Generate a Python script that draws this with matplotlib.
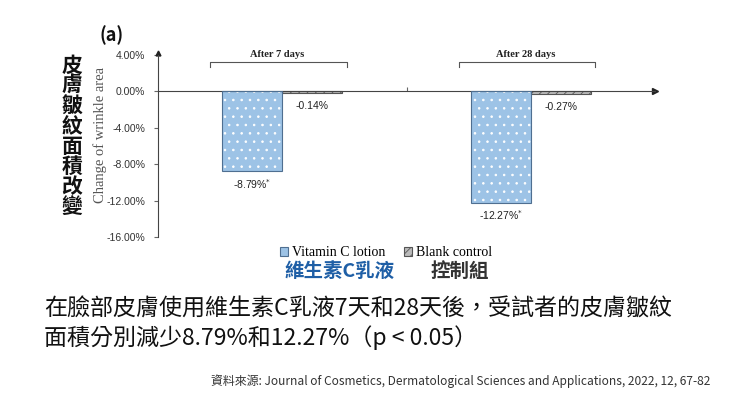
import numpy as np
import matplotlib.pyplot as plt
from matplotlib.patches import Patch

plt.rcParams['font.family'] = ['Noto Sans CJK TC', 'DejaVu Sans']
plt.rcParams['hatch.linewidth'] = 0.6

# data
groups = ['After 7 days', 'After 28 days']
vitamin = [-8.79, -12.27]
blank = [-0.14, -0.27]
significant = [True, True]
series_en = ['Vitamin C lotion', 'Blank control']
series_zh = ['維生素C乳液', '控制組']
yticks = [4, 0, -4, -8, -12, -16]

vit_face = '#9dc3e6'
vit_edge = '#4f6f91'
zh_blue = '#1f5fa6'

fig = plt.figure(figsize=(7.4, 4.04), dpi=100)
ax = fig.add_axes([158 / 740, 1 - 237 / 404, 497 / 740, 182 / 404])

x = np.arange(len(groups)) + 0.5
w = 0.242

# vitamin C bars: blue with white dots, then outline
ax.bar(x - w / 2, vitamin, w, color=vit_face, edgecolor='white', hatch='..', linewidth=0, zorder=2)
ax.bar(x - w / 2, vitamin, w, fill=False, edgecolor=vit_edge, linewidth=0.8, zorder=3)
# blank control bars
ax.bar(x + w / 2, blank, w, color='#bbbbbb', edgecolor='#555555', hatch='////', linewidth=0.8, zorder=2)

ax.set_xlim(0, 2)
ax.set_ylim(-16, 4)
ax.set_yticks(yticks)
ax.set_yticklabels([f'{v:.2f}%' for v in yticks], fontsize=7.5, color='#333333',
                   family=['Liberation Sans', 'DejaVu Sans'])
ax.set_xticks([1])
ax.set_xticklabels([])
ax.tick_params(axis='x', direction='in', length=3, color='#666666')
ax.tick_params(axis='y', direction='out', length=3, color='#666666', pad=6)

for s in ['top', 'right']:
    ax.spines[s].set_visible(False)
ax.spines['bottom'].set_position(('data', 0))
ax.spines['bottom'].set_color('#444444')
ax.spines['left'].set_color('#444444')
ax.spines['bottom'].set_linewidth(0.8)
ax.spines['left'].set_linewidth(0.8)
ax.plot(1, 0, '>', color='#222222', ms=4, transform=ax.get_yaxis_transform(), clip_on=False)
ax.plot(0, 1.01, '^', color='#222222', ms=3.5, transform=ax.get_xaxis_transform(), clip_on=False)

# value labels
for xi, v, sig in zip(x, vitamin, significant):
    lab = f'{v:.2f}%' + (r'$^{*}$' if sig else '')
    ax.text(xi - w / 2, v - 0.6, lab, ha='center', va='top', fontsize=7.5, color='#222222',
            family=['Liberation Sans', 'DejaVu Sans'])
for xi, v in zip(x, blank):
    ax.text(xi + w / 2, v - 0.9, f'{v:.2f}%', ha='center', va='top', fontsize=7.5, color='#222222',
            family=['Liberation Sans', 'DejaVu Sans'])

# group brackets and titles
for xi, g in zip(x, groups):
    x0, x1 = xi - 0.29, xi + 0.26
    ax.plot([x0, x0, x1, x1], [2.7, 3.2, 3.2, 2.7], color='#555555', lw=0.8, clip_on=False)
    ax.text(xi - 0.02, 4.1, g, ha='center', va='center', fontsize=7.5, fontweight='bold',
            family=['Liberation Serif', 'DejaVu Serif'], color='#222222')

# axis titles
fig.text(100 / 740, 1 - 135 / 404, 'Change of wrinkle area', rotation=90, ha='center', va='center',
         fontsize=10.5, color='#555555', family=['Liberation Serif', 'DejaVu Serif'])
fig.text(72 / 740, 1 - 136 / 404, '\n'.join('皮膚皺紋面積改變'), ha='center', va='center',
         fontsize=15, fontweight='bold', color='#111111', linespacing=0.95)
fig.text(112 / 740, 1 - 35 / 404, '(a)', ha='center', va='center', fontsize=13,
         fontweight='bold', color='#111111')

# legend
handles = [Patch(facecolor=vit_face, edgecolor=vit_edge, linewidth=0.8),
           Patch(facecolor='#bbbbbb', edgecolor='#555555', hatch='////', linewidth=0.8)]
fig.legend(handles, series_en, loc='center left', bbox_to_anchor=(280 / 740, 1 - 253 / 404),
           ncol=2, frameon=False, handlelength=0.6, handleheight=0.6, handletextpad=0.3,
           columnspacing=1.3, borderaxespad=0, borderpad=0,
           prop={'family': ['Liberation Serif', 'DejaVu Serif'], 'size': 10})
fig.text(340 / 740, 1 - 271 / 404, series_zh[0], ha='center', va='center', fontsize=14,
         fontweight='bold', color=zh_blue)
fig.text(460 / 740, 1 - 271 / 404, series_zh[1], ha='center', va='center', fontsize=14,
         fontweight='bold', color='#333333')

# caption
fig.text(44 / 740, 1 - 309 / 404, '在臉部皮膚使用維生素C乳液7天和28天後，受試者的皮膚皺紋', ha='left',
         va='center', fontsize=16.6, color='#111111')
fig.text(44 / 740, 1 - 338 / 404, '面積分別減少8.79%和12.27%（p < 0.05）', ha='left',
         va='center', fontsize=16.6, color='#111111')
fig.text(710 / 740, 1 - 381 / 404,
         '資料來源: Journal of Cosmetics, Dermatological Sciences and Applications, 2022, 12, 67-82',
         ha='right', va='center', fontsize=8.6, color='#333333')

fig.savefig('out.png', dpi=100)
